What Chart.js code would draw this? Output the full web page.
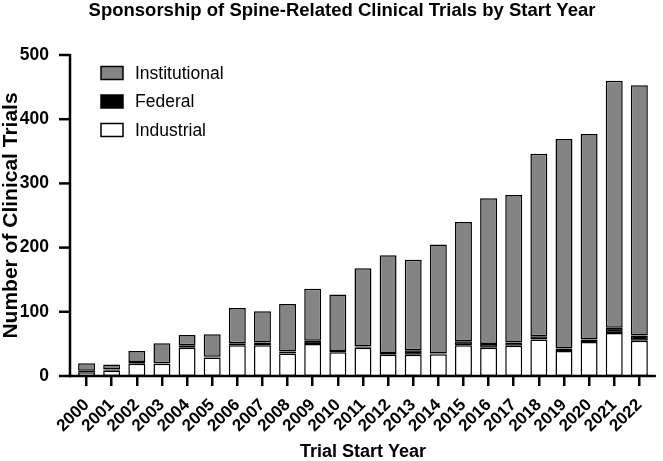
<!DOCTYPE html>
<html>
<head>
<meta charset="utf-8">
<script src="https://cdn.jsdelivr.net/npm/chart.js@4.4.1/dist/chart.umd.min.js"></script>
<style>
  html, body { margin: 0; padding: 0; background: #ffffff; }
  #wrap { width: 663px; height: 461px; }
</style>
</head>
<body>
<div id="wrap"><canvas id="c" width="663" height="461"></canvas></div>
<script>
const years = ['2000','2001','2002','2003','2004','2005','2006','2007','2008','2009','2010','2011','2012','2013','2014','2015','2016','2017','2018','2019','2020','2021','2022'];
const industrial = [6, 8, 19, 19, 44, 29, 48, 48, 35, 50, 37, 44, 33, 33, 34, 48, 44, 47, 57, 39, 53, 67, 55];
const federal = [2, 2, 3, 1, 4, 1, 3, 4, 3, 5, 2, 2, 3, 7, 1, 6, 6, 5, 5, 4, 4, 8, 8];
const institutional = [12, 8, 17, 31, 16, 35, 55, 49, 74, 81, 88, 122, 152, 141, 170, 186, 227, 230, 284, 326, 320, 385, 390];
const yTicks = [0, 100, 200, 300, 400, 500];

const FONT = '"Liberation Sans", Arial, Helvetica, sans-serif';

const axesPlugin = {
  id: 'customAxes',
  afterDraw(chart) {
    const ctx = chart.ctx;
    const ys = chart.scales.y;
    const ax = chart.chartArea.left - 4;
    const y0 = ys.getPixelForValue(0);
    const yTop = ys.getPixelForValue(500);
    ctx.save();
    ctx.strokeStyle = '#000';
    ctx.lineWidth = 2.5;
    ctx.lineCap = 'butt';
    ctx.beginPath();
    ctx.moveTo(ax, yTop - 1);
    ctx.lineTo(ax, y0 + 1.25);
    ctx.stroke();
    yTicks.forEach(v => {
      const py = ys.getPixelForValue(v);
      ctx.beginPath();
      ctx.moveTo(ax - 11, py);
      ctx.lineTo(ax, py);
      ctx.stroke();
    });
    ctx.beginPath();
    ctx.moveTo(ax - 1.25, y0);
    ctx.lineTo(chart.chartArea.right + 4, y0);
    ctx.stroke();

    // title
    ctx.fillStyle = '#000';
    ctx.font = 'bold 18.5px ' + FONT;
    ctx.textAlign = 'center';
    ctx.textBaseline = 'alphabetic';
    ctx.fillText('Sponsorship of Spine-Related Clinical Trials by Start Year', 342, 16);

    // legend
    const items = chart.data.datasets.slice().reverse();
    const rowY = [73, 101.5, 130];
    ctx.font = '17.5px ' + FONT;
    ctx.textAlign = 'left';
    ctx.textBaseline = 'middle';
    items.forEach((ds, i) => {
      const cy = rowY[i];
      ctx.fillStyle = ds.backgroundColor;
      ctx.fillRect(101, cy - 6.5, 22, 13);
      ctx.lineWidth = 1.5;
      ctx.strokeStyle = '#000';
      ctx.strokeRect(101, cy - 6.5, 22, 13);
      ctx.fillStyle = '#000';
      ctx.fillText(ds.label, 135, cy + 1);
    });
    ctx.restore();
  }
};

new Chart(document.getElementById('c'), {
  type: 'bar',
  data: {
    labels: years,
    datasets: [
      { label: 'Industrial', data: industrial, backgroundColor: '#ffffff' },
      { label: 'Federal', data: federal, backgroundColor: '#000000' },
      { label: 'Institutional', data: institutional, backgroundColor: '#848484' }
    ]
  },
  options: {
    responsive: false,
    animation: false,
    devicePixelRatio: 1,
    layout: { padding: { top: 55, right: 10, left: 0, bottom: 0 } },
    datasets: {
      bar: {
        borderColor: '#000000',
        borderWidth: 1.5,
        borderSkipped: false,
        categoryPercentage: 1.0,
        barPercentage: 0.675
      }
    },
    plugins: {
      legend: { display: false },
      title: { display: false },
      tooltip: { enabled: false }
    },
    scales: {
      x: {
        stacked: true,
        offset: true,
        afterFit(s) { s.height = 85; },
        border: { display: false },
        grid: {
          display: true,
          offset: false,
          drawOnChartArea: false,
          drawTicks: true,
          tickLength: 10,
          lineWidth: 2.5,
          color: '#000'
        },
        ticks: {
          autoSkip: false,
          maxRotation: 45,
          minRotation: 45,
          padding: 9,
          color: '#000',
          font: { family: FONT, size: 17, weight: 'bold' }
        },
        title: {
          display: true,
          text: 'Trial Start Year',
          color: '#000',
          font: { family: FONT, size: 18, weight: 'bold', lineHeight: 1.2 },
          padding: { top: 0, bottom: -1.5 }
        }
      },
      y: {
        stacked: true,
        min: 0,
        max: 500,
        afterFit(s) { s.width = 74; },
        border: { display: false },
        grid: { display: false },
        afterBuildTicks(s) { s.ticks = yTicks.map(v => ({ value: v })); },
        ticks: {
          padding: 17,
          color: '#000',
          font: { family: FONT, size: 17.5, weight: 'bold' }
        },
        title: {
          display: true,
          text: 'Number of Clinical Trials',
          color: '#000',
          font: { family: FONT, size: 21, weight: 'bold', lineHeight: 1.0 },
          padding: { top: 1, bottom: 0 }
        }
      }
    }
  },
  plugins: [axesPlugin]
});
</script>
</body>
</html>
